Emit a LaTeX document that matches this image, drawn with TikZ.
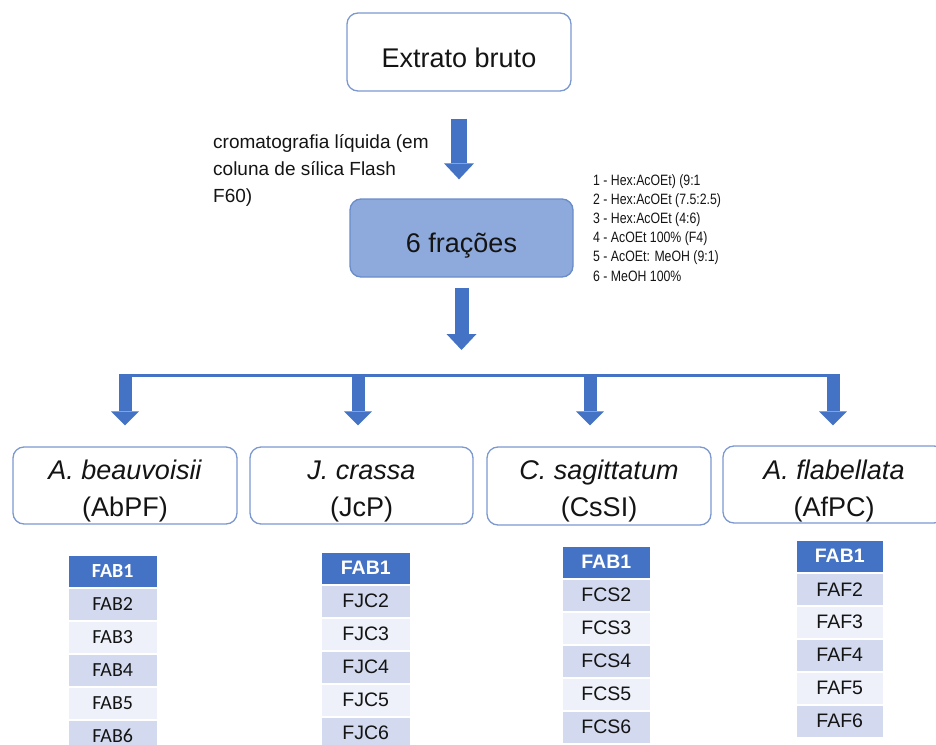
\documentclass[tikz,border=0pt]{standalone}
\usepackage{fontspec}
\setmainfont{Liberation Sans}
\newfontfamily\calib{Carlito}
\newfontfamily\narrowfont[FakeStretch=0.82]{Liberation Sans}
\usetikzlibrary{arrows.meta}
\definecolor{arrowblue}{HTML}{4472C4}
\definecolor{boxline}{HTML}{7C98D0}
\definecolor{fracfill}{HTML}{8EAADC}
\definecolor{fracline}{HTML}{6A8CCB}
\definecolor{rowA}{HTML}{D3DAEF}
\definecolor{rowB}{HTML}{EEF1F9}
\definecolor{txt}{HTML}{141414}
\begin{document}
\begin{tikzpicture}[x=1pt,y=-1pt,
  roundbox/.style={draw=boxline, line width=1.3pt, rounded corners=11pt, fill=white, inner sep=0pt},
  shaftbig/.style={draw=arrowblue, line width=16pt, -{Triangle[width=30pt,length=16pt,line width=0pt]}},
  shaftsmall/.style={draw=arrowblue, line width=13pt, -{Triangle[width=28pt,length=14pt,line width=0pt]}},
  barline/.style={draw=arrowblue, line width=3pt},
  bigtext/.style={font=\fontsize{27}{32}\selectfont, text=txt, inner sep=0pt},
  cell/.style={draw=white, line width=1.5pt, inner sep=0pt, text=txt, minimum height=33pt, anchor=north west},
]
\useasboundingbox (0,0) rectangle (936,744);
\clip (0,0) rectangle (936,744);

% top boxes
\node[roundbox, minimum width=224pt, minimum height=78pt] (extrato) at (459,52) {};
\node[bigtext, anchor=base] (extratotxt) at (459,67) {Extrato bruto};
\node[roundbox, draw=fracline, fill=fracfill, minimum width=223pt, minimum height=78pt] (fracoes) at (461.5,238) {};
\node[bigtext, anchor=base] (fracoestxt) at (461.5,252) {6 frações};

% side texts
\node[anchor=base west, inner sep=0pt, text=txt, font=\fontsize{19}{27}\selectfont] (crom) at (213,148)
  {\begin{tabular}[t]{@{}l@{}}cromatografia líquida (em\\coluna de sílica Flash\\F60)\end{tabular}};
\node[anchor=base west, inner sep=0pt, text=txt, font=\narrowfont\fontsize{15}{19.2}\selectfont] (solv) at (593,185)
  {\begin{tabular}[t]{@{}l@{}}1 - Hex:AcOEt) (9:1\\2 - Hex:AcOEt (7.5:2.5)\\3 - Hex:AcOEt (4:6)\\4 - AcOEt 100\% (F4)\\5 - AcOEt: MeOH (9:1)\\6 - MeOH 100\%\end{tabular}};

% main arrows
\draw[shaftbig, shorten <=27pt, shorten >=19pt] (extrato.south) -- (extrato.south |- fracoes.north);
\coordinate (hub) at (461.5,350);
\draw[shaftbig, line width=14pt, shorten <=10pt] (fracoes.south) -- (hub);

% species boxes
\node[roundbox, minimum width=224pt, minimum height=77pt] (sp1) at (125,485.5) {};
\node[roundbox, minimum width=223pt, minimum height=77pt] (sp2) at (361.5,485.5) {};
\node[roundbox, minimum width=224pt, minimum height=78pt] (sp3) at (599,486) {};
\node[roundbox, minimum width=222pt, minimum height=77pt] (sp4) at (834,484.5) {};
\node[bigtext, anchor=base] (sp1a) at (125,479) {\itshape A. beauvoisii};
\node[bigtext, anchor=base] (sp1b) at (125,516) {(AbPF)};
\node[bigtext, anchor=base] (sp2a) at (361.5,479) {\itshape J. crassa};
\node[bigtext, anchor=base] (sp2b) at (361.5,516) {(JcP)};
\node[bigtext, anchor=base] (sp3a) at (599,479) {\itshape C. sagittatum};
\node[bigtext, anchor=base] (sp3b) at (599,516) {(CsSI)};
\node[bigtext, anchor=base] (sp4a) at (834,479) {\itshape A. flabellata};
\node[bigtext, anchor=base] (sp4b) at (834,516) {(AfPC)};

% branching bar and arrows
\coordinate (t1) at (125,375);
\coordinate (t2) at (358,375);
\coordinate (t3) at (590,375);
\coordinate (t4) at (833,375);
\draw[barline] (t1) -- (t4);
\draw[shaftsmall, shorten >=21pt] ([yshift=1.5pt]t1) -- (t1 |- sp1.north);
\draw[shaftsmall, shorten >=21pt] ([yshift=1.5pt]t2) -- (t2 |- sp2.north);
\draw[shaftsmall, shorten >=21pt] ([yshift=1.5pt]t3) -- (t3 |- sp3.north);
\draw[shaftsmall, shorten >=20pt] ([yshift=1.5pt]t4) -- (t4 |- sp4.north);

% fraction tables
\foreach \col/\x/\y/\w/\fnt/\fs/\pre in {1/67/554/90/\calib/20/FAB, 2/320/551/90/\relax/19.5/FJC, 3/561/545/89/\relax/19.5/FCS, 4/795/539/88/\relax/19.5/FAF}{
  \node[cell, fill=arrowblue, text=white, minimum width={\w pt}, font={\fnt\fontsize{\fs}{22}\selectfont\bfseries}] (c\col r1) at (\x,\y) {FAB1};
  \foreach \r/\c in {2/rowA,3/rowB,4/rowA,5/rowB,6/rowA}{
    \node[cell, fill=\c, minimum width={\w pt}, font={\fnt\fontsize{\fs}{22}\selectfont}] (c\col r\r) at (\x,{\y+33*(\r-1)}) {\pre\r};
  }
}
\end{tikzpicture}
\end{document}
